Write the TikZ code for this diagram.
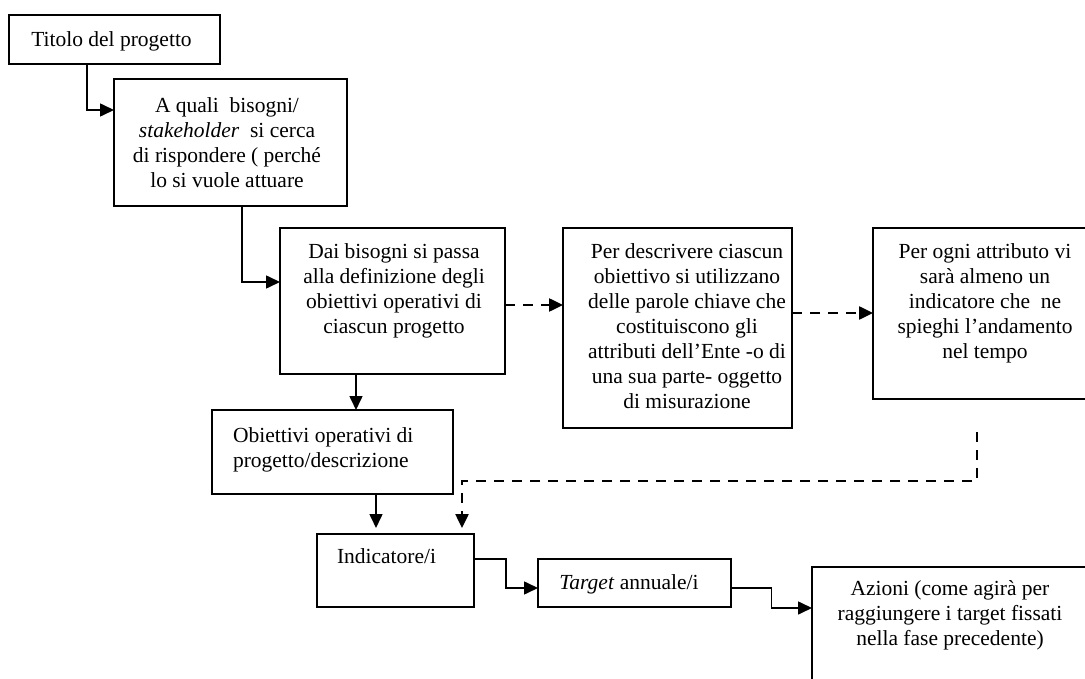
\documentclass[tikz,border=0pt]{standalone}
\usepackage{fontspec}
\setmainfont{Liberation Serif}
\usetikzlibrary{arrows.meta,calc}
\begin{document}
\begin{tikzpicture}[x=1pt,y=-1pt,
  box/.style={draw, line width=2pt, inner sep=0pt, outer sep=0pt},
  txt/.style={inner sep=0pt, outer sep=0pt, align=center, font=\fontsize{21.5pt}{25pt}\selectfont},
  arr/.style={draw, line width=1.6pt, -{Triangle[length=14pt,width=13pt]}},
  darr/.style={draw, line width=2.5pt, dash pattern=on 10pt off 8pt, -{Triangle[length=14pt,width=13pt]}}]
\useasboundingbox (0,0) rectangle (1085,679);
\clip (0,0) rectangle (1085,679);

% boxes
\node[box, minimum width=211pt, minimum height=49pt]  (titolo) at (114.5,39.5) {};
\node[box, minimum width=233pt, minimum height=127pt] (aquali) at (230.5,142.5) {};
\node[box, minimum width=225pt, minimum height=146pt] (dai)    at (392.5,301) {};
\node[box, minimum width=229pt, minimum height=200pt] (pdesc)  at (677.5,328) {};
\node[box, minimum width=227pt, minimum height=171pt] (pogni)  at (986.5,313.5) {};
\node[box, minimum width=241pt, minimum height=84pt]  (obiet)  at (332.5,452) {};
\node[box, minimum width=157pt, minimum height=73pt]  (indic)  at (395.5,570.5) {};
\node[box, minimum width=193pt, minimum height=48pt]  (target) at (634.5,583) {};
\node[box, minimum width=298pt, minimum height=153pt] (azioni) at (961,643.5) {};

% texts
\node[txt, anchor=base] (titolo-t) at (111.5,47) {Titolo del progetto};
\node[txt, anchor=north] (aquali-t) at (227,97.3) {A quali~ bisogni/\\\textit{stakeholder}~ si cerca\\di rispondere ( perché\\lo si vuole attuare};
\node[txt, anchor=north] (dai-t) at (394,243.3) {Dai bisogni si passa\\alla definizione degli\\obiettivi operativi di\\ciascun progetto};
\node[txt, anchor=north] (pdesc-t) at (687,243.3) {Per descrivere ciascun\\obiettivo si utilizzano\\delle parole chiave che\\costituiscono gli\\attributi dell’Ente -o di\\una sua parte- oggetto\\di misurazione};
\node[txt, anchor=north] (pogni-t) at (985,243.3) {Per ogni attributo vi\\sarà almeno un\\indicatore che~ ne\\spieghi l’andamento\\nel tempo};
\node[txt, align=left, anchor=north west] (obiet-t) at (233,427.3) {Obiettivi operativi di\\progetto/descrizione};
\node[txt, anchor=base west] (indic-t) at (337,563) {Indicatore/i};
\node[txt, anchor=base] (target-t) at (629,589) {\textit{Target} annuale/i};
\node[txt, anchor=north] (azioni-t) at (950,580.3) {Azioni (come agirà per\\raggiungere i target fissati\\nella fase precedente)};

% connection points
\coordinate (a1) at ([xshift=78pt]titolo.south west);
\coordinate (a2) at ([yshift=32.5pt]aquali.west);
\coordinate (b1) at ([xshift=128pt]aquali.south west);
\coordinate (b2) at ([yshift=19pt]dai.west);
\coordinate (d1) at ([yshift=-4pt]dai.east);
\coordinate (d2) at ([yshift=15pt]pdesc.east);
\coordinate (d3) at ([xshift=-36.5pt]dai.south);
\coordinate (d4) at ([xshift=43.5pt]obiet.south);
\coordinate (d5) at ([xshift=-9.5pt,yshift=-33pt]pogni.south);
\coordinate (d6) at ([xshift=66.5pt]indic.north);
\coordinate (d6c) at ([yshift=53pt]d6);
\coordinate (e1) at ([yshift=11.5pt]indic.east);
\coordinate (e2) at ([yshift=-5pt]target.west);
\coordinate (f1) at ([yshift=-5pt]target.east);
\coordinate (f2) at ([yshift=35.5pt]azioni.west);

% connectors
\draw[arr] (a1) |- (a2);
\draw[arr] (b1) |- (b2);
\draw[darr] (d1) -- (d1 -| pdesc.west);
\draw[darr] (d2) -- (d2 -| pogni.west);
\draw[arr] (d3) -- (d3 |- obiet.north);
\draw[arr, shorten >=6pt] (d4) -- (d4 |- indic.north);
\draw[darr, shorten >=6pt] (d5) |- (d6c) -- (d6);
\draw[arr] (e1) -| ($(e1)!0.5!(e2)$) |- (e2);
\draw[arr] (f1) -| ($(f1)!0.5!(f2)$) |- (f2);
\end{tikzpicture}
\end{document}
